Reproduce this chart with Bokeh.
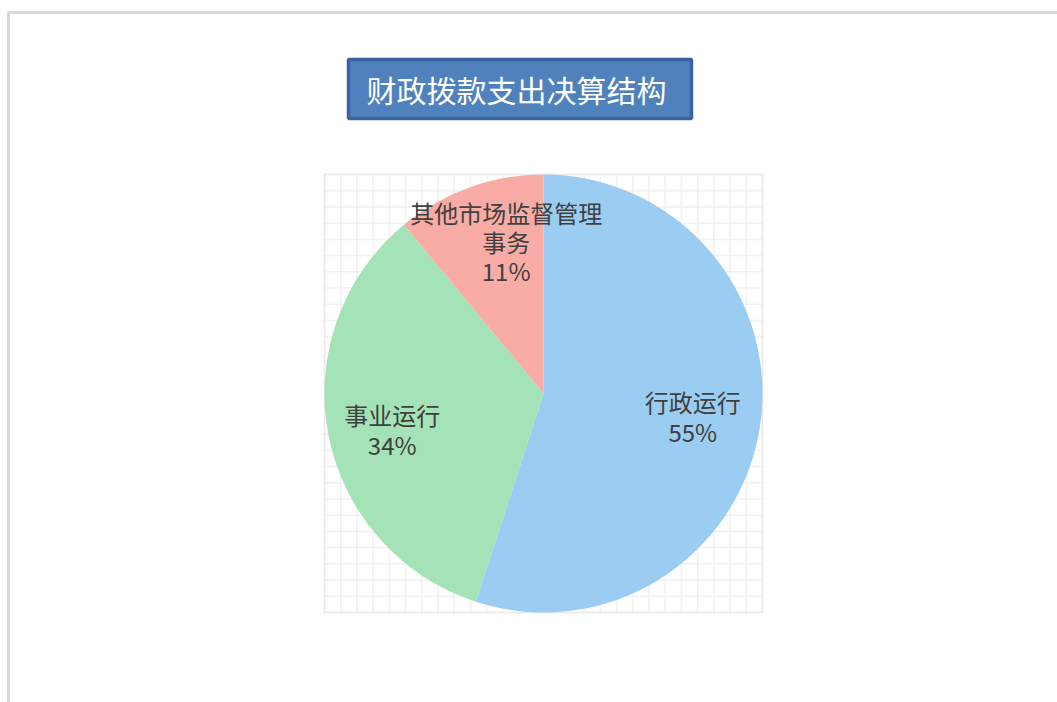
import numpy as np
from bokeh.plotting import figure
from bokeh.models import ColumnDataSource, Range1d
from bokeh.core.properties import value
from bokeh.embed import file_html
from bokeh.resources import INLINE

# ---- data ----
title = "财政拨款支出决算结构"
categories = ["行政运行", "事业运行", "其他市场监督管理\n事务"]
shares = [55, 34, 11]
colors = ["#96CAF1", "#9FE1B3", "#F9A7A0"]

W, H = 1057, 702
FONT = "Noto Sans CJK SC"

p = figure(width=W, height=H, output_backend="svg", toolbar_location=None,
           x_range=Range1d(0, W), y_range=Range1d(0, H), min_border=0)
p.axis.visible = False
p.xgrid.visible = False
p.ygrid.visible = False
p.outline_line_color = None
p.background_fill_color = "white"
p.border_fill_color = "white"

def Y(py):
    return H - py

# outer chart frame (top & left visible)
p.line([8, 8, W], [Y(H), Y(12), Y(12)], line_color="#d9d9d9", line_width=3)

# plot-area grid behind the pie
cx, cy, r = 543, Y(393), 219
gx0, gx1 = cx - r, cx + r
gy0, gy1 = cy - r, cy + r
n = 27
xs_lines, ys_lines = [], []
for t in np.linspace(0, 1, n + 1):
    gx = gx0 + t * (gx1 - gx0)
    gy = gy0 + t * (gy1 - gy0)
    xs_lines.append([gx, gx]); ys_lines.append([gy0, gy1])
    xs_lines.append([gx0, gx1]); ys_lines.append([gy, gy])
p.multi_line(xs_lines, ys_lines, line_color="#f1f1f1", line_width=1.5)
p.quad(left=[gx0], right=[gx1], bottom=[gy0], top=[gy1], fill_color=None,
       line_color="#e9e9e9", line_width=1.5)

# pie
fr = np.array(shares, dtype=float) / sum(shares)
ends = np.pi / 2 - 2 * np.pi * np.cumsum(fr)
starts = np.concatenate([[np.pi / 2], ends[:-1]])
src = ColumnDataSource(dict(start=starts, end=ends, color=colors))
p.wedge(x=cx, y=cy, radius=r, start_angle="start", end_angle="end",
        direction="clock", fill_color="color", fill_alpha=0.95,
        line_color=None, source=src)

# data labels (placed near each slice's mid-angle)
mid = (starts + ends) / 2 + np.radians([0.2, 2.6, -6.0])
rf = np.array([0.69, 0.71, 0.715])
lx = cx + rf * r * np.cos(mid)
ly = cy + rf * r * np.sin(mid)
labels = [f"{c}\n{s}%" for c, s in zip(categories, shares)]
p.text(x=lx, y=ly, text=labels, text_font=value(FONT), text_font_size="24px",
       text_color="#404040", text_align="center", text_baseline="middle",
       text_line_height=0.84)

# title box
p.quad(left=[348], right=[691], bottom=[Y(118)], top=[Y(59)],
       fill_color="#4F81BD", line_color="#3A62A0", line_width=3.5)
p.text(x=[516], y=[Y(88)], text=[title], text_font=value(FONT),
       text_font_size="30px", text_color="white", text_align="center",
       text_baseline="middle")

open("out.html", "w").write(file_html(p, INLINE))
